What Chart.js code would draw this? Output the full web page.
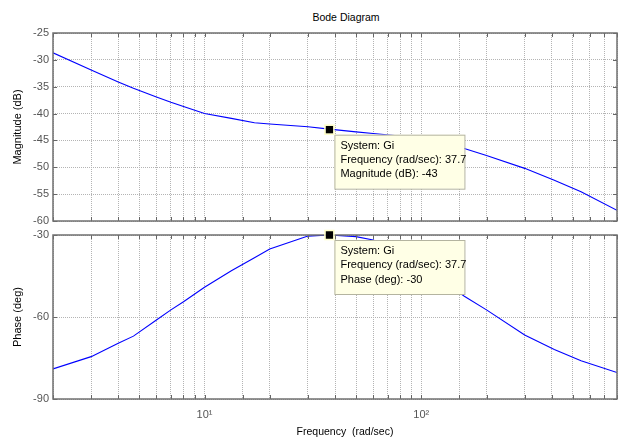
<!DOCTYPE html>
<html>
<head>
<meta charset="utf-8">
<script src="https://cdn.jsdelivr.net/npm/chart.js@4.4.1/dist/chart.umd.min.js"></script>
<style>
    body { margin: 0; background: #fff; }
    #wrap { position: relative; width: 618px; height: 440px; font-family: "Liberation Sans", Arial, sans-serif; }
    canvas { position: absolute; left: 0; }
    .lbl { position: absolute; font-size: 10.5px; color: #000; white-space: pre; transform: translateX(-50%); }
</style>
</head>
<body>
<div id="wrap">
    <div class="lbl" style="left:346px; top:11px;">Bode Diagram</div>
    <canvas id="magChart" width="618" height="228" style="top:0;"></canvas>
    <canvas id="phaseChart" width="618" height="212" style="top:228px;"></canvas>
    <div class="lbl" style="left:345px; top:425px;">Frequency  (rad/sec)</div>
</div>
<script>
/** -------------------- DATA -------------------- */
const freq = [2, 3, 4, 4.7, 6, 7, 8, 10, 13.3, 17, 20, 30, 37.7, 50, 60, 80, 100, 125, 158, 200, 300, 411, 546, 800];
const magDb = [-28.7, -31.9, -34.1, -35.3, -36.9, -37.9, -38.7, -40.0, -40.9, -41.7, -41.95, -42.45, -42.9, -43.4, -43.7, -44.2, -44.8, -45.6, -46.5, -47.8, -50.2, -52.4, -54.55, -58.0];
const phaseDeg = [-79.0, -74.5, -69.6, -67.0, -61.1, -57.4, -54.4, -49.1, -43.1, -38.3, -35.1, -30.4, -30.0, -30.6, -31.8, -35.8, -40.5, -46.5, -52.4, -57.4, -66.6, -71.9, -76.0, -80.3];

const magTicks = [-60, -55, -50, -45, -40, -35, -30, -25];
const phaseTicks = [-90, -60, -30];
const decadeLabels = {10: '10\u00B9', 100: '10\u00B2'};

const systemName = 'Gi';
const markerFreq = [37.7];
const markerMag = [-43];
const markerPhase = [-30];

/** -------------------- HELPERS -------------------- */
const tickFont = {family: '"Liberation Sans", Arial, sans-serif', size: 11};
const gridColor = '#b4b4b4';

function toPoints(xs, ys) {
    return xs.map((x, i) => ({x: x, y: ys[i]}));
}

// frame + inner tick marks, like the matlab axes box
const framePlugin = {
    id: 'frame',
    afterDraw(chart) {
        const {ctx, chartArea: a, scales} = chart;
        ctx.save();
        ctx.strokeStyle = '#666';
        ctx.lineWidth = 1;
        scales.x.ticks.forEach(t => {
            const px = Math.round(scales.x.getPixelForValue(t.value)) + 0.5;
            ctx.beginPath();
            ctx.moveTo(px, a.top); ctx.lineTo(px, a.top + 4);
            ctx.moveTo(px, a.bottom); ctx.lineTo(px, a.bottom - 4);
            ctx.stroke();
        });
        scales.y.ticks.forEach(t => {
            const py = Math.round(scales.y.getPixelForValue(t.value)) + 0.5;
            ctx.beginPath();
            ctx.moveTo(a.left, py); ctx.lineTo(a.left + 4, py);
            ctx.moveTo(a.right, py); ctx.lineTo(a.right - 4, py);
            ctx.stroke();
        });
        ctx.strokeStyle = '#707070';
        ctx.lineWidth = 1.5;
        ctx.strokeRect(a.left, a.top, a.right - a.left, a.bottom - a.top);
        ctx.restore();
    }
};

// datatip box next to the marker point
const dataTipPlugin = {
    id: 'dataTip',
    afterDraw(chart, args, opts) {
        const meta = chart.getDatasetMeta(1);
        if (!meta || !meta.data.length) return;
        const pt = meta.data[0];
        const {ctx} = chart;
        const bx = pt.x + 5, by = pt.y + 5, bw = 130, bh = 54;
        ctx.save();
        ctx.fillStyle = '#ffffe6';
        ctx.strokeStyle = '#b4b4a0';
        ctx.lineWidth = 1;
        ctx.fillRect(bx, by, bw, bh);
        ctx.strokeRect(bx + 0.5, by + 0.5, bw, bh);
        ctx.fillStyle = '#000';
        ctx.font = '11px "Liberation Sans", Arial, sans-serif';
        ctx.textBaseline = 'middle';
        opts.lines.forEach((line, i) => {
            ctx.fillText(line, bx + 6, by + 11 + i * 14.3);
        });
        // marker on top of everything
        ctx.fillStyle = '#000';
        ctx.strokeStyle = '#ffffc8';
        ctx.lineWidth = 1.5;
        ctx.fillRect(pt.x - 4, pt.y - 4, 8, 8);
        ctx.strokeRect(pt.x - 4.5, pt.y - 4.5, 9, 9);
        ctx.restore();
    }
};

function makeChart(id, ys, tickVals, yTitle, mark, tipLines, isBottom) {
    const ctx = document.getElementById(id).getContext('2d');
    return new Chart(ctx, {
        type: 'line',
        data: {
            datasets: [
                {
                    data: toPoints(freq, ys),
                    borderColor: '#0000ff',
                    borderWidth: 1.1,
                    pointRadius: 0,
                    fill: false,
                    tension: 0
                },
                {
                    data: toPoints(markerFreq, mark),
                    showLine: false,
                    pointRadius: 0,
                    clip: false
                }
            ]
        },
        options: {
            responsive: false,
            animation: false,
            devicePixelRatio: 1,
            layout: {padding: isBottom ? {left: 0, right: 1, top: 7, bottom: 1} : {left: 0, right: 1, top: 33, bottom: 7}},
            plugins: {
                legend: {display: false},
                tooltip: {enabled: false},
                dataTip: {lines: tipLines}
            },
            scales: {
                x: {
                    type: 'logarithmic',
                    min: freq[0],
                    max: freq[freq.length - 1],
                    afterFit: s => {
                        s.height = isBottom ? 40 : 0;
                        s.paddingLeft = 0; s.paddingRight = 0;
                    },
                    grid: {color: gridColor, drawTicks: false, lineWidth: 1},
                    border: {display: false, dash: [1, 1]},
                    ticks: {
                        display: isBottom,
                        autoSkip: false,
                        maxRotation: 0,
                        padding: 9,
                        color: '#555',
                        font: tickFont,
                        callback: v => decadeLabels[v] || ''
                    }
                },
                y: {
                    min: tickVals[0],
                    max: tickVals[tickVals.length - 1],
                    afterFit: s => {
                        s.width = 53;
                        s.paddingTop = 0; s.paddingBottom = 0;
                    },
                    afterBuildTicks: s => { s.ticks = tickVals.map(v => ({value: v})); },
                    grid: {color: gridColor, drawTicks: false, lineWidth: 1},
                    border: {display: false, dash: [1, 1]},
                    ticks: {padding: 4, color: '#555', font: tickFont},
                    title: {
                        display: true,
                        text: yTitle,
                        color: '#000',
                        font: {family: tickFont.family, size: 11},
                        padding: {top: 11, bottom: 0}
                    }
                }
            }
        },
        plugins: [framePlugin, dataTipPlugin]
    });
}

const magChart = makeChart('magChart', magDb, magTicks, 'Magnitude (dB)', markerMag, [
    `System: ${systemName}`,
    `Frequency (rad/sec): ${markerFreq[0]}`,
    `Magnitude (dB): ${markerMag[0]}`
], false);

const phaseChart = makeChart('phaseChart', phaseDeg, phaseTicks, 'Phase (deg)', markerPhase, [
    `System: ${systemName}`,
    `Frequency (rad/sec): ${markerFreq[0]}`,
    `Phase (deg): ${markerPhase[0]}`
], true);
</script>
</body>
</html>
